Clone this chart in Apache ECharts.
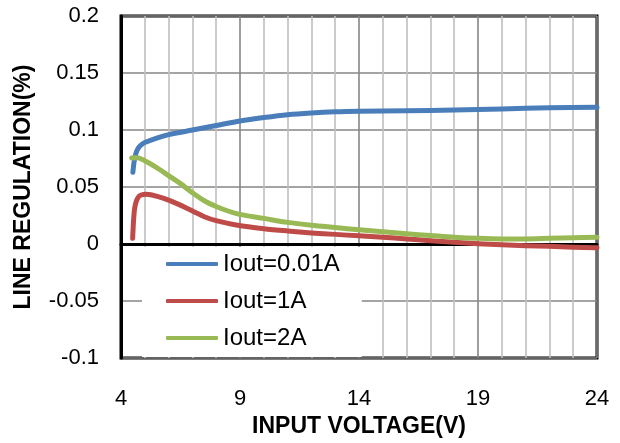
<!DOCTYPE html>
<html>
<head>
<meta charset="utf-8">
<script src="https://cdn.jsdelivr.net/npm/echarts@6/dist/echarts.min.js"></script>
<style>
html,body{margin:0;padding:0;background:#fff;}
#main{width:620px;height:443px;}
</style>
</head>
<body>
<div id="main"></div>
<script>
// Data
const seriesNames = ['Iout=0.01A', 'Iout=1A', 'Iout=2A'];
const blueData = [
  [4.5,0.063],[4.55,0.072],[4.62,0.079],[4.72,0.084],[4.85,0.087],[5.0,0.089],[5.5,0.093],
  [6,0.096],[7,0.100],[8,0.104],[9,0.108],[10,0.111],[11,0.1135],[12,0.115],[13,0.116],
  [14,0.1165],[16,0.117],[18,0.1175],[19,0.118],[20,0.1185],[22,0.1195],[24,0.120]
];
const redData = [
  [4.49,0.005],[4.52,0.018],[4.56,0.029],[4.62,0.036],[4.72,0.041],[4.85,0.043],[5.05,0.0437],
  [5.3,0.043],[5.8,0.040],[6.4,0.035],[7.0,0.029],[7.5,0.024],[8,0.0205],[8.9,0.0165],
  [10,0.0135],[11,0.0115],[12,0.0098],[13,0.0085],[14,0.0072],[15,0.006],[16,0.0045],
  [17,0.003],[18,0.0015],[19,0.0003],[20,-0.0007],[21,-0.0015],[22,-0.002],[23,-0.0027],[24,-0.0032]
];
const greenData = [
  [4.45,0.0755],[4.7,0.0758],[5.0,0.073],[5.5,0.067],[6.0,0.060],[6.5,0.053],[7.0,0.045],
  [7.5,0.038],[8.0,0.033],[8.5,0.029],[9.0,0.026],[10,0.0225],[11,0.019],[12,0.0165],
  [13,0.0145],[14,0.0125],[15,0.0108],[16,0.009],[17,0.0075],[18,0.006],[19,0.005],
  [20,0.0045],[21,0.0045],[22,0.005],[23,0.0055],[24,0.006]
];
const xMin = 4, xMax = 24, xStep = 5;
const yMin = -0.1, yMax = 0.2, yStep = 0.05;
const colors = ['#4a7ebb', '#be4b48', '#98b954'];

const font = "'Liberation Sans', Arial, sans-serif";
const chart = echarts.init(document.getElementById('main'));
const mk = (name, data, color) => ({
  name, type: 'line', data, smooth: 0.3, showSymbol: false, symbol: 'none',
  lineStyle: { color, width: 5, cap: 'round', join: 'round' },
  itemStyle: { color }
});
chart.setOption({
  animation: false,
  backgroundColor: '#fff',
  grid: { left: 121, right: 23, top: 16, bottom: 82, show: true, borderColor: '#000', borderWidth: 3 },
  xAxis: {
    type: 'value', min: xMin, max: xMax, interval: xStep,
    name: 'INPUT VOLTAGE(V)', nameLocation: 'middle', nameGap: 55,
    nameTextStyle: { fontFamily: font, fontSize: 23, fontWeight: 'bold', color: '#000' },
    axisLine: { show: true, lineStyle: { color: '#000', width: 3 } },
    axisTick: { show: false },
    minorTick: { show: false, splitNumber: 5 },
    axisLabel: { margin: 30, fontFamily: font, fontSize: 22, color: '#000' },
    splitLine: { show: true, lineStyle: { color: '#868686', width: 1.6 } },
    minorSplitLine: { show: true, lineStyle: { color: '#bfbfbf', width: 1.6 } }
  },
  yAxis: {
    type: 'value', min: yMin, max: yMax, interval: yStep,
    name: 'LINE REGULATION(%)', nameLocation: 'middle', nameGap: 86,
    nameTextStyle: { fontFamily: font, fontSize: 23, fontWeight: 'bold', color: '#000' },
    axisLine: { show: true, lineStyle: { color: '#000', width: 3 } },
    axisTick: { show: false },
    axisLabel: { margin: 22, fontFamily: font, fontSize: 22, color: '#000',
      formatter: v => String(Number(v.toFixed(2))) },
    splitLine: { show: true, lineStyle: { color: '#868686', width: 1.6 } }
  },
  legend: {
    data: seriesNames, orient: 'vertical', left: 142, top: 247,
    backgroundColor: '#fff', padding: [5, 22, 7, 24], itemGap: 13,
    icon: 'roundRect', itemWidth: 52, itemHeight: 4,
    textStyle: { fontFamily: font, fontSize: 24, lineHeight: 24, color: '#000' }
  },
  series: [
    mk(seriesNames[0], blueData, colors[0]),
    mk(seriesNames[1], redData, colors[1]),
    mk(seriesNames[2], greenData, colors[2])
  ]
});
</script>
</body>
</html>
